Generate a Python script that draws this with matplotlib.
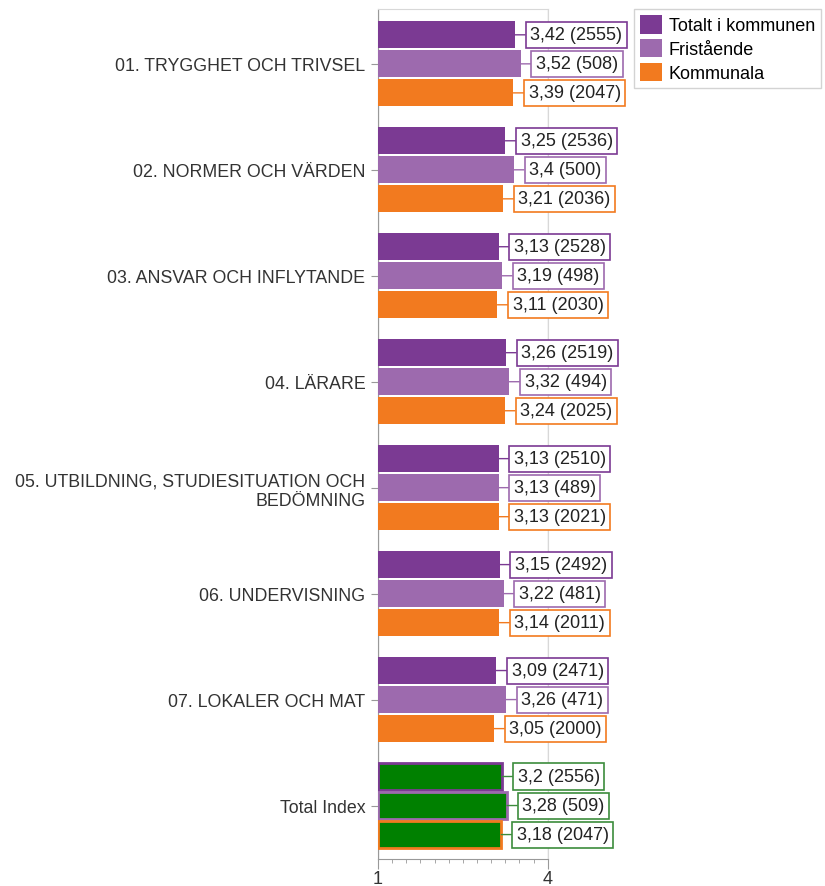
import matplotlib
matplotlib.use("Agg")
import matplotlib.pyplot as plt
import numpy as np
from matplotlib.patches import Patch

plt.rcParams['font.family'] = ['Liberation Sans', 'DejaVu Sans']

categories = ['01. TRYGGHET OCH TRIVSEL', '02. NORMER OCH VÄRDEN',
              '03. ANSVAR OCH INFLYTANDE', '04. LÄRARE',
              '05. UTBILDNING, STUDIESITUATION OCH\nBEDÖMNING',
              '06. UNDERVISNING', '07. LOKALER OCH MAT', 'Total Index']
series_names = ['Totalt i kommunen', 'Fristående', 'Kommunala']

totalt = [3.42, 3.25, 3.13, 3.26, 3.13, 3.15, 3.09, 3.2]
totalt_n = [2555, 2536, 2528, 2519, 2510, 2492, 2471, 2556]
fristaende = [3.52, 3.4, 3.19, 3.32, 3.13, 3.22, 3.26, 3.28]
fristaende_n = [508, 500, 498, 494, 489, 481, 471, 509]
kommunala = [3.39, 3.21, 3.11, 3.24, 3.13, 3.14, 3.05, 3.18]
kommunala_n = [2047, 2036, 2030, 2025, 2021, 2011, 2000, 2047]

colors = ['#7b3a93', '#9d6aae', '#f27a1f']
green = '#008000'

fig = plt.figure(figsize=(8.25, 8.87), dpi=100)
ax = fig.add_axes([0.458, 0.031, 0.206, 0.958])

y = np.arange(len(categories))
bar_h = 0.255
pitch = 0.274
all_vals = [totalt, fristaende, kommunala]
all_n = [totalt_n, fristaende_n, kommunala_n]

for s in range(3):
    pos = y + (s - 1) * pitch
    vals = np.array(all_vals[s])
    for i in range(len(categories)):
        is_total = categories[i] == 'Total Index'
        fc = green if is_total else colors[s]
        ec = colors[s] if is_total else 'none'
        lw = 2 if is_total else 0
        ax.barh(pos[i], vals[i] - 1, left=1, height=bar_h, color=fc,
                edgecolor=ec, linewidth=lw, zorder=3)
        box_c = '#3c8c3c' if is_total else colors[s]
        txt = '{} ({})'.format(str(vals[i]).replace('.', ','), all_n[s][i])
        ax.annotate(txt, xy=(vals[i], pos[i]), xytext=(11, 0),
                    textcoords='offset points', ha='left', va='center',
                    fontsize=13, color='#222222', annotation_clip=False,
                    bbox=dict(boxstyle='square,pad=0.25', fc='white', ec=box_c, lw=1.2),
                    arrowprops=dict(arrowstyle='-', color=box_c, lw=1,
                                    shrinkA=0, shrinkB=0),
                    zorder=4)

ax.set_xlim(1, 4)
ax.set_ylim(len(categories) - 0.5, -0.52)
ax.set_xticks([1, 4])
ax.set_xticks(np.arange(1, 4.01, 0.25), minor=True)
ax.set_xticklabels(['1', '4'], fontsize=13, color='#333333')
ax.set_yticks(y)
ax.set_yticklabels(categories, fontsize=12.8, color='#333333', multialignment='right')
ax.tick_params(axis='y', length=5, color='#999999', pad=4)
ax.tick_params(axis='x', which='major', length=7, color='#999999', pad=1)
ax.tick_params(axis='x', which='minor', length=3, color='#999999')
ax.xaxis.grid(True, color='#d0d0d0', lw=1, zorder=0)
ax.set_axisbelow(True)
for side in ['left', 'bottom']:
    ax.spines[side].set_color('#999999')
for side in ['top', 'right']:
    ax.spines[side].set_color('#d8d8d8')

handles = [Patch(facecolor=c, edgecolor='none') for c in colors]
fig.legend(handles, series_names, loc='upper left', bbox_to_anchor=(0.768, 0.989),
           fontsize=13, frameon=True, fancybox=False, edgecolor='#c8c8c8',
           handlelength=1.2, handleheight=1.2, handletextpad=0.4,
           borderpad=0.35, labelspacing=0.25, borderaxespad=0)

fig.savefig('out.png', dpi=100)
